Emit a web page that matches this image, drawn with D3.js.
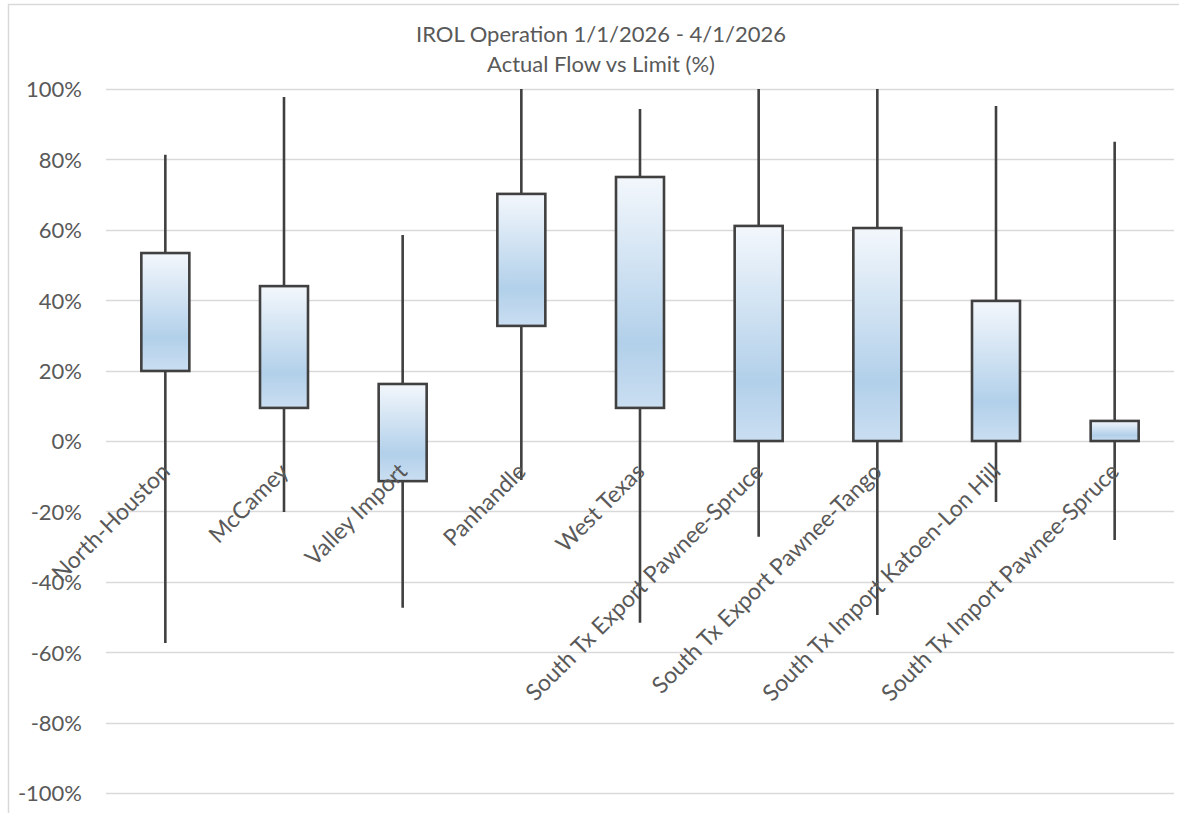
<!DOCTYPE html>
<html>
<head>
<meta charset="utf-8">
<script src="https://cdn.jsdelivr.net/npm/d3@7"></script>
<style>
  html, body { margin: 0; padding: 0; background: #fff; }
  svg { display: block; }
  text { font-family: Lato, "Open Sans", sans-serif; fill: #595959; }
</style>
</head>
<body>
<svg id="chart" width="1179" height="813"></svg>
<script>
// Flow as a percentage of limit, per interface
const categories = [
  "North-Houston", "McCamey", "Valley Import", "Panhandle", "West Texas",
  "South Tx Export Pawnee-Spruce", "South Tx Export Pawnee-Tango",
  "South Tx Import Katoen-Lon Hill", "South Tx Import Pawnee-Spruce"
];
const highValues  = [81.3, 97.7, 58.5, 100, 94.3, 100, 100, 95.2, 85.0];
const boxTop      = [53.4, 44.0, 16.2, 70.2, 75.0, 61.1, 60.5, 39.8, 5.7];
const boxBottom   = [19.9, 9.4, -11.4, 32.7, 9.4, 0, 0, 0, 0];
const lowValues   = [-57.4, -20.2, -47.4, -11.1, -51.6, -27.2, -49.4, -17.3, -28.1];
const yTicks      = [100, 80, 60, 40, 20, 0, -20, -40, -60, -80, -100];
const titleLines  = ["IROL Operation 1/1/2026 - 4/1/2026", "Actual Flow vs Limit (%)"];

const rows = categories.map((c, i) => ({
  name: c, high: highValues[i], top: boxTop[i], bottom: boxBottom[i], low: lowValues[i]
}));

const svg = d3.select("#chart");
const plotLeft = 106, plotRight = 1174, plotTop = 89, plotBottom = 793;

const x = d3.scaleBand().domain(categories).range([plotLeft, plotRight]);
const y = d3.scaleLinear().domain([-100, 100]).range([plotBottom, plotTop]);

// chart frame
svg.append("rect")
  .attr("x", 8.5).attr("y", 4.5)
  .attr("width", 1200).attr("height", 900)
  .attr("fill", "none").attr("stroke", "#d9d9d9").attr("stroke-width", 1.5);

// box fill gradient
const grad = svg.append("defs").append("linearGradient")
  .attr("id", "boxFill").attr("x1", 0).attr("y1", 0).attr("x2", 0).attr("y2", 1);
grad.append("stop").attr("offset", "0%").attr("stop-color", "#f3f7fc");
grad.append("stop").attr("offset", "72%").attr("stop-color", "#b2d0ea");
grad.append("stop").attr("offset", "100%").attr("stop-color", "#cadef1");

// gridlines
svg.append("g").selectAll("line").data(yTicks).join("line")
  .attr("x1", plotLeft).attr("x2", plotRight)
  .attr("y1", d => Math.round(y(d)) + 0.5).attr("y2", d => Math.round(y(d)) + 0.5)
  .attr("stroke", "#d9d9d9").attr("stroke-width", 1.3);

// y axis labels
const yAxis = d3.axisLeft(y).tickValues(yTicks).tickFormat(d => d + "%").tickSize(0).tickPadding(0);
const yg = svg.append("g").attr("transform", "translate(82,0)").call(yAxis);
yg.select(".domain").remove();
yg.selectAll("text")
  .attr("font-size", 22).attr("font-family", "Lato, sans-serif")
  .attr("fill", "#595959").attr("dy", "0.36em");

const cx = d => x(d.name) + x.bandwidth() / 2;
const boxW = 48;

// whiskers
svg.append("g").selectAll("line").data(rows).join("line")
  .attr("x1", cx).attr("x2", cx)
  .attr("y1", d => y(d.high)).attr("y2", d => y(d.low))
  .attr("stroke", "#404040").attr("stroke-width", 2.6);

// boxes
svg.append("g").selectAll("rect").data(rows).join("rect")
  .attr("x", d => cx(d) - boxW / 2)
  .attr("y", d => y(d.top))
  .attr("width", boxW)
  .attr("height", d => y(d.bottom) - y(d.top))
  .attr("fill", "url(#boxFill)")
  .attr("stroke", "#404040").attr("stroke-width", 2.6);

// category labels, rotated, ending at the zero line, drawn over the marks
svg.append("g").selectAll("text").data(rows).join("text")
  .attr("transform", d => `translate(${cx(d) + 6},${y(0) + 32}) rotate(-45)`)
  .attr("text-anchor", "end")
  .attr("font-size", 23)
  .text(d => d.name);

// title
svg.append("g").selectAll("text").data(titleLines).join("text")
  .attr("x", 601).attr("y", (d, i) => 42 + i * 30)
  .attr("text-anchor", "middle")
  .attr("font-size", 22)
  .text(d => d);
</script>
</body>
</html>
